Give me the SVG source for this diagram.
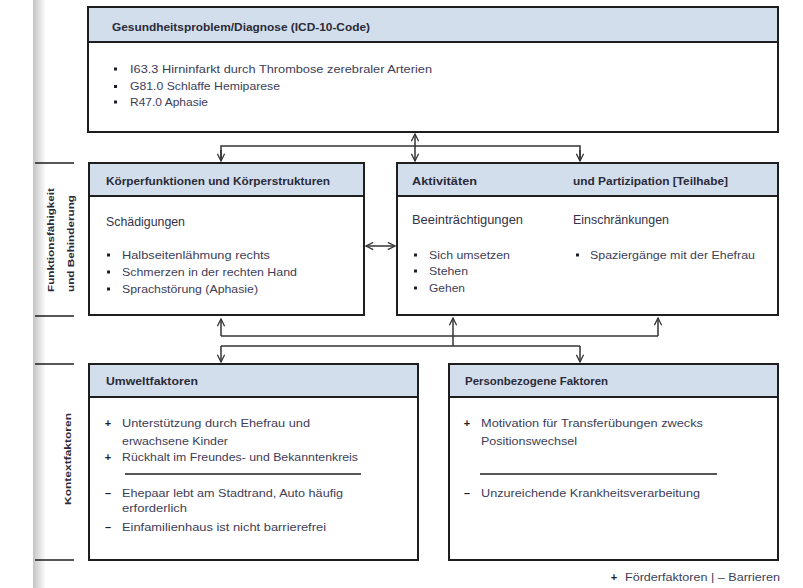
<svg xmlns="http://www.w3.org/2000/svg" width="803" height="588" viewBox="0 0 803 588">
<defs>
<linearGradient id="strip" x1="0" y1="0" x2="1" y2="0">
<stop offset="0" stop-color="#c4c4c4"/>
<stop offset="1" stop-color="#ffffff"/>
</linearGradient>
<marker id="ah" viewBox="0 0 10 10" refX="9" refY="5" markerWidth="9" markerHeight="9" markerUnits="userSpaceOnUse" orient="auto-start-reverse">
<path d="M1,1 L9,5 L1,9" fill="none" stroke="#333" stroke-width="1.4"/>
</marker>
<style>
.box{fill:#fff;stroke:#1e1e1e;stroke-width:2}
.hdr{fill:#d2deec;stroke:#1e1e1e;stroke-width:2}
.ht{font-family:"Liberation Sans",Arial,sans-serif;font-size:10.5px;font-weight:bold;fill:#2a2a38}
.sub{font-family:"Liberation Sans",Arial,sans-serif;font-size:13px;fill:#33334a}
.bt{font-family:"Liberation Sans",Arial,sans-serif;font-size:10.5px;fill:#3d3d58}
.mk{font-family:"Liberation Sans",Arial,sans-serif;font-size:11px;font-weight:bold;fill:#1e1e2a;text-anchor:middle}
.side{font-family:"Liberation Sans",Arial,sans-serif;font-size:9px;font-weight:bold;fill:#2a2a38}
.sq{fill:#1e1e2a}
.ln{stroke:#1e1e1e;stroke-width:1.5;fill:none}
.con{stroke:#333;stroke-width:1.5;fill:none}
</style>
</defs>
<rect x="0" y="0" width="803" height="588" fill="#fff"/>
<rect x="33" y="0" width="13" height="588" fill="url(#strip)"/>

<g id="side-labels">
<line class="ln" x1="35" y1="163" x2="74" y2="163"/>
<line class="ln" x1="35" y1="316" x2="74" y2="316"/>
<line class="ln" x1="35" y1="364" x2="74" y2="364"/>
<line class="ln" x1="35" y1="560" x2="74" y2="560"/>
<text class="side" transform="translate(54,292) rotate(-90)" textLength="104" lengthAdjust="spacingAndGlyphs">Funktionsfähigkeit</text>
<text class="side" transform="translate(74,292) rotate(-90)" textLength="97" lengthAdjust="spacingAndGlyphs">und Behinderung</text>
<text class="side" transform="translate(71,505) rotate(-90)" textLength="92" lengthAdjust="spacingAndGlyphs">Kontextfaktoren</text>
</g>

<g id="connectors">
<polyline class="con" points="221,160 221,146 580,146 580,160" />
<line class="con" x1="221" y1="150" x2="221" y2="161" marker-end="url(#ah)"/>
<line class="con" x1="580" y1="150" x2="580" y2="161" marker-end="url(#ah)"/>
<line class="con" x1="415" y1="134" x2="415" y2="161" marker-start="url(#ah)" marker-end="url(#ah)"/>
<line class="con" x1="366" y1="246" x2="395" y2="246" marker-start="url(#ah)" marker-end="url(#ah)"/>
<line class="con" x1="221" y1="336" x2="658" y2="336"/>
<line class="con" x1="221" y1="336" x2="221" y2="319" marker-end="url(#ah)"/>
<line class="con" x1="658" y1="336" x2="658" y2="318" marker-end="url(#ah)"/>
<line class="con" x1="453" y1="346" x2="453" y2="318" marker-end="url(#ah)"/>
<line class="con" x1="221" y1="346" x2="580" y2="346"/>
<line class="con" x1="221" y1="346" x2="221" y2="362" marker-end="url(#ah)"/>
<line class="con" x1="580" y1="346" x2="580" y2="362" marker-end="url(#ah)"/>
</g>

<g id="diagnose">
<rect class="box" x="88" y="7" width="690" height="125"/>
<rect class="hdr" x="88" y="7" width="690" height="35"/>
<text class="ht" x="112" y="31" textLength="258" lengthAdjust="spacingAndGlyphs">Gesundheitsproblem/Diagnose (ICD-10-Code)</text>
<rect class="sq" x="114" y="67.5" width="3" height="3"/>
<rect class="sq" x="114" y="85" width="3" height="3"/>
<rect class="sq" x="114" y="100.5" width="3" height="3"/>
<text class="bt" x="130" y="73" textLength="302" lengthAdjust="spacingAndGlyphs">I63.3 Hirninfarkt durch Thrombose zerebraler Arterien</text>
<text class="bt" x="130" y="90" textLength="150" lengthAdjust="spacingAndGlyphs">G81.0 Schlaffe Hemiparese</text>
<text class="bt" x="130" y="106" textLength="78" lengthAdjust="spacingAndGlyphs">R47.0 Aphasie</text>
</g>

<g id="koerper">
<rect class="box" x="89" y="163" width="275" height="152"/>
<rect class="hdr" x="89" y="163" width="275" height="33"/>
<text class="ht" x="106" y="185" textLength="224" lengthAdjust="spacingAndGlyphs">Körperfunktionen und Körperstrukturen</text>
<text class="sub" x="106" y="226" textLength="79" lengthAdjust="spacingAndGlyphs">Schädigungen</text>
<rect class="sq" x="107" y="253.5" width="3" height="3"/>
<rect class="sq" x="107" y="270.5" width="3" height="3"/>
<rect class="sq" x="107" y="287.5" width="3" height="3"/>
<text class="bt" x="122" y="259" textLength="148" lengthAdjust="spacingAndGlyphs">Halbseitenlähmung rechts</text>
<text class="bt" x="122" y="276" textLength="175" lengthAdjust="spacingAndGlyphs">Schmerzen in der rechten Hand</text>
<text class="bt" x="122" y="293" textLength="136" lengthAdjust="spacingAndGlyphs">Sprachstörung (Aphasie)</text>
</g>

<g id="aktivitaeten">
<rect class="box" x="397" y="163" width="381" height="152"/>
<rect class="hdr" x="397" y="163" width="381" height="33"/>
<text class="ht" x="412" y="185" textLength="65" lengthAdjust="spacingAndGlyphs">Aktivitäten</text>
<text class="ht" x="573" y="185" textLength="155" lengthAdjust="spacingAndGlyphs">und Partizipation [Teilhabe]</text>
<text class="sub" x="412" y="224" textLength="111" lengthAdjust="spacingAndGlyphs">Beeinträchtigungen</text>
<text class="sub" x="573" y="224" textLength="96" lengthAdjust="spacingAndGlyphs">Einschränkungen</text>
<rect class="sq" x="414" y="253.5" width="3" height="3"/>
<rect class="sq" x="414" y="269.5" width="3" height="3"/>
<rect class="sq" x="414" y="286.5" width="3" height="3"/>
<text class="bt" x="429" y="259" textLength="81" lengthAdjust="spacingAndGlyphs">Sich umsetzen</text>
<text class="bt" x="429" y="275" textLength="39" lengthAdjust="spacingAndGlyphs">Stehen</text>
<text class="bt" x="429" y="292" textLength="36" lengthAdjust="spacingAndGlyphs">Gehen</text>
<rect class="sq" x="576" y="253.5" width="3" height="3"/>
<text class="bt" x="590" y="259" textLength="165" lengthAdjust="spacingAndGlyphs">Spaziergänge mit der Ehefrau</text>
</g>

<g id="umwelt">
<rect class="box" x="89" y="364" width="329" height="196"/>
<rect class="hdr" x="89" y="364" width="329" height="33"/>
<text class="ht" x="106" y="385" textLength="92" lengthAdjust="spacingAndGlyphs">Umweltfaktoren</text>
<text class="mk" x="108" y="427">+</text>
<text class="bt" x="122" y="427" textLength="188" lengthAdjust="spacingAndGlyphs">Unterstützung durch Ehefrau und</text>
<text class="bt" x="122" y="445" textLength="106" lengthAdjust="spacingAndGlyphs">erwachsene Kinder</text>
<text class="mk" x="108" y="461">+</text>
<text class="bt" x="122" y="461" textLength="236" lengthAdjust="spacingAndGlyphs">Rückhalt im Freundes- und Bekanntenkreis</text>
<line class="ln" x1="125" y1="474" x2="361" y2="474"/>
<text class="mk" x="108" y="497">–</text>
<text class="bt" x="122" y="497" textLength="221" lengthAdjust="spacingAndGlyphs">Ehepaar lebt am Stadtrand, Auto häufig</text>
<text class="bt" x="122" y="512" textLength="65" lengthAdjust="spacingAndGlyphs">erforderlich</text>
<text class="mk" x="108" y="531">–</text>
<text class="bt" x="122" y="531" textLength="204" lengthAdjust="spacingAndGlyphs">Einfamilienhaus ist nicht barrierefrei</text>
</g>

<g id="person">
<rect class="box" x="449" y="364" width="329" height="196"/>
<rect class="hdr" x="449" y="364" width="329" height="33"/>
<text class="ht" x="465" y="385" textLength="143" lengthAdjust="spacingAndGlyphs">Personbezogene Faktoren</text>
<text class="mk" x="467" y="427">+</text>
<text class="bt" x="481" y="427" textLength="222" lengthAdjust="spacingAndGlyphs">Motivation für Transferübungen zwecks</text>
<text class="bt" x="481" y="445" textLength="96" lengthAdjust="spacingAndGlyphs">Positionswechsel</text>
<line class="ln" x1="480" y1="474" x2="717" y2="474"/>
<text class="mk" x="467" y="497">–</text>
<text class="bt" x="481" y="497" textLength="219" lengthAdjust="spacingAndGlyphs">Unzureichende Krankheitsverarbeitung</text>
</g>

<g id="legend">
<text class="mk" x="614" y="581">+</text>
<text class="bt" x="625" y="581" textLength="155" lengthAdjust="spacingAndGlyphs">Förderfaktoren | – Barrieren</text>
</g>
</svg>
